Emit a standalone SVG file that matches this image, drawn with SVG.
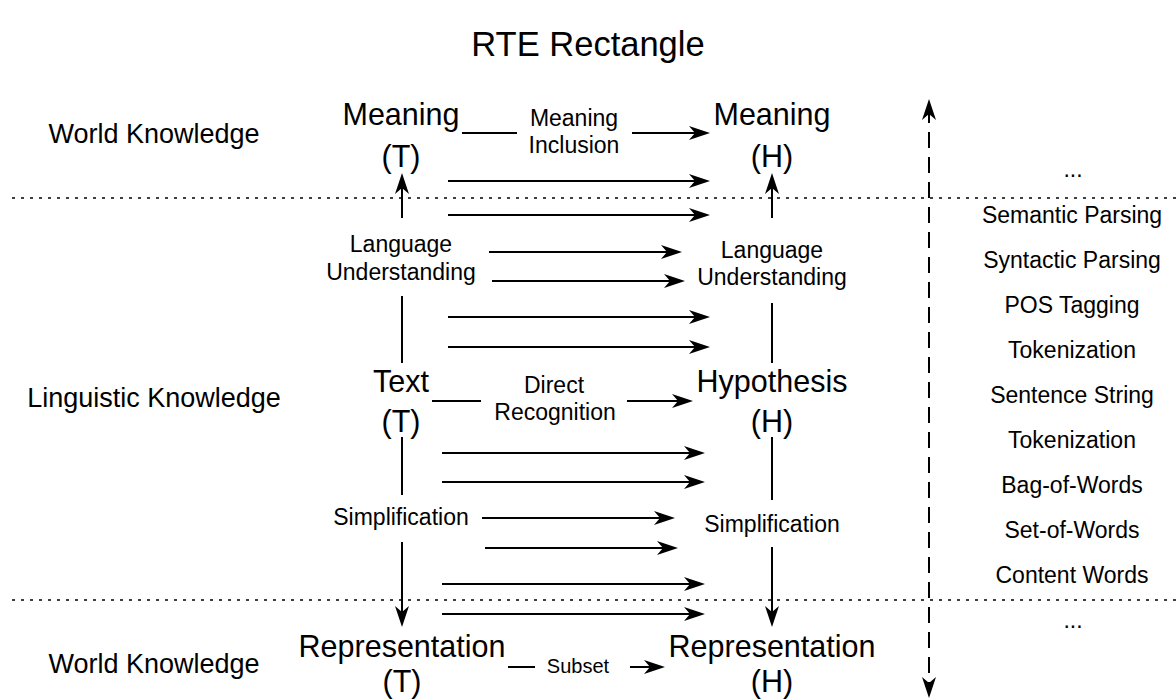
<svg xmlns="http://www.w3.org/2000/svg" width="1176" height="700" viewBox="0 0 1176 700">
<style>
text{font-family:"Liberation Sans",Arial,sans-serif;fill:#000;text-anchor:middle}
.big{font-size:30.5px}
.sm{font-size:23px}
.side{font-size:27px}
.title{font-size:34.5px}
.ln{stroke:#000;stroke-width:2;fill:none}
.ar{stroke:#000;stroke-width:2;fill:none;marker-end:url(#ah)}
.dot{stroke:#000;stroke-width:1.6;stroke-dasharray:3 6;fill:none}
.dash{stroke:#000;stroke-width:2;stroke-dasharray:16 9;fill:none;marker-start:url(#ahs);marker-end:url(#ah)}
</style>
<defs>
<marker id="ah" markerUnits="userSpaceOnUse" markerWidth="24" markerHeight="18" refX="13" refY="8" orient="auto" overflow="visible">
<path d="M0,1 L21,8 L0,15 L6,8 Z" fill="#000"/>
</marker>
<marker id="ahs" markerUnits="userSpaceOnUse" markerWidth="24" markerHeight="18" refX="13" refY="8" orient="auto-start-reverse" overflow="visible">
<path d="M0,1 L21,8 L0,15 L6,8 Z" fill="#000"/>
</marker>
</defs>
<rect width="1176" height="700" fill="#fff"/>
<text class="title" x="588" y="56">RTE Rectangle</text>
<g id="layers">
<line class="dot" x1="12" y1="198" x2="1176" y2="198"/>
<line class="dot" x1="12" y1="600" x2="1176" y2="600"/>
</g>
<g id="side-labels">
<text class="side" x="154" y="143">World Knowledge</text>
<text class="side" x="154" y="407">Linguistic Knowledge</text>
<text class="side" x="154" y="673">World Knowledge</text>
</g>
<g id="meaning-t"><text class="big" x="401" y="125">Meaning</text><text class="big" x="401" y="167">(T)</text></g>
<g id="meaning-h"><text class="big" x="772" y="125">Meaning</text><text class="big" x="772" y="167">(H)</text></g>
<g id="text-t"><text class="big" x="401" y="392">Text</text><text class="big" x="401" y="432">(T)</text></g>
<g id="hypothesis-h"><text class="big" x="772" y="392">Hypothesis</text><text class="big" x="772" y="432">(H)</text></g>
<g id="representation-t"><text class="big" x="402" y="657">Representation</text><text class="big" x="402" y="692">(T)</text></g>
<g id="representation-h"><text class="big" x="772" y="657">Representation</text><text class="big" x="772" y="692">(H)</text></g>
<g id="levels">
<text class="sm" x="1073" y="177">...</text>
<text class="sm" x="1072" y="223">Semantic Parsing</text>
<text class="sm" x="1072" y="268">Syntactic Parsing</text>
<text class="sm" x="1072" y="313">POS Tagging</text>
<text class="sm" x="1072" y="358">Tokenization</text>
<text class="sm" x="1072" y="403">Sentence String</text>
<text class="sm" x="1072" y="448">Tokenization</text>
<text class="sm" x="1072" y="493">Bag-of-Words</text>
<text class="sm" x="1072" y="538">Set-of-Words</text>
<text class="sm" x="1072" y="583">Content Words</text>
<text class="sm" x="1073" y="628">...</text>
</g>
<g id="connectors">
<line class="ln" x1="462" y1="133" x2="517" y2="133"/>
<line class="ar" x1="632" y1="133" x2="702" y2="133"/>
<text class="sm" x="574" y="126">Meaning</text>
<text class="sm" x="574" y="153">Inclusion</text>
<line class="ln" x1="402" y1="363" x2="402" y2="296"/>
<line class="ar" x1="402" y1="218" x2="402" y2="181"/>
<text class="sm" x="401" y="252">Language</text>
<text class="sm" x="401" y="280">Understanding</text>
<line class="ln" x1="772" y1="363" x2="772" y2="303"/>
<line class="ar" x1="772" y1="218" x2="772" y2="181"/>
<text class="sm" x="772" y="258">Language</text>
<text class="sm" x="772" y="285">Understanding</text>
<line class="ln" x1="432" y1="401" x2="481" y2="401"/>
<line class="ar" x1="627" y1="401" x2="685" y2="401"/>
<text class="sm" x="554" y="393">Direct</text>
<text class="sm" x="555" y="420">Recognition</text>
<line class="ln" x1="402" y1="437" x2="402" y2="495"/>
<line class="ar" x1="402" y1="542" x2="402" y2="619"/>
<text class="sm" x="401" y="525">Simplification</text>
<line class="ln" x1="772" y1="437" x2="772" y2="500"/>
<line class="ar" x1="772" y1="547" x2="772" y2="619"/>
<text class="sm" x="772" y="532">Simplification</text>
<line class="ln" x1="508" y1="667" x2="535" y2="667"/>
<line class="ar" x1="630" y1="667" x2="657" y2="667"/>
<text class="sm" x="578" y="673" style="font-size:20px">Subset</text>
<line class="ar" x1="448" y1="181" x2="702" y2="181"/>
<line class="ar" x1="448" y1="215" x2="702" y2="215"/>
<line class="ar" x1="489" y1="252" x2="674" y2="252"/>
<line class="ar" x1="492" y1="281" x2="677" y2="281"/>
<line class="ar" x1="448" y1="317" x2="702" y2="317"/>
<line class="ar" x1="448" y1="347" x2="702" y2="347"/>
<line class="ar" x1="442" y1="453" x2="697" y2="453"/>
<line class="ar" x1="442" y1="482" x2="697" y2="482"/>
<line class="ar" x1="482" y1="518" x2="667" y2="518"/>
<line class="ar" x1="485" y1="548" x2="670" y2="548"/>
<line class="ar" x1="442" y1="584" x2="697" y2="584"/>
<line class="ar" x1="442" y1="614" x2="697" y2="614"/>
<line class="dash" x1="929" y1="107" x2="929" y2="690"/>
</g>
</svg>
